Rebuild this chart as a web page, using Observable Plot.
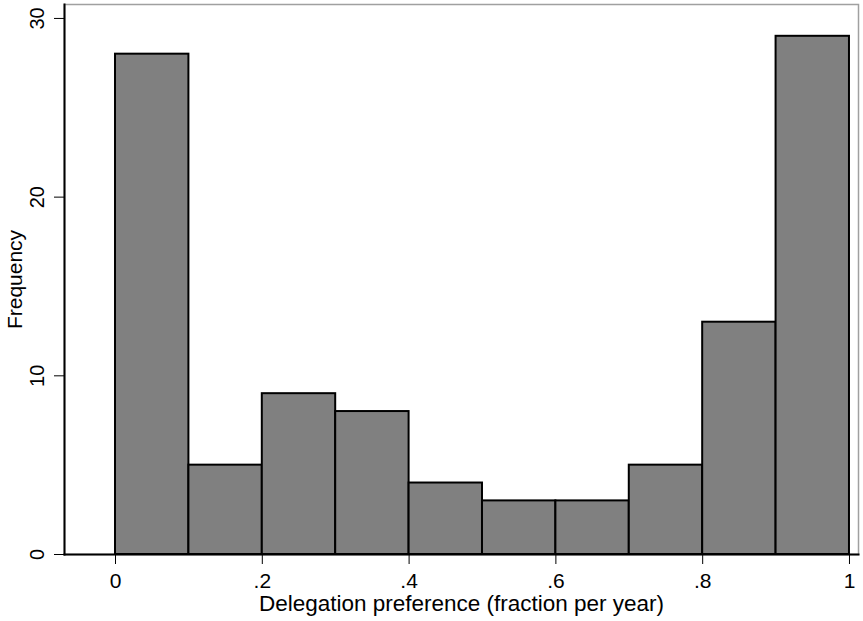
<!DOCTYPE html>
<html>
<head>
<meta charset="utf-8">
<script src="https://cdn.jsdelivr.net/npm/d3@7"></script>
<script src="https://cdn.jsdelivr.net/npm/@observablehq/plot@0.6"></script>
<style>
  body { margin: 0; background: #fff; }
  #chart svg { font-family: "Liberation Sans", Arial, sans-serif; }
</style>
</head>
<body>
<div id="chart"></div>
<script>
// Histogram bins: lower edges of each 0.1-wide bin and the counts in them
const binStart = [0, 0.1, 0.2, 0.3, 0.4, 0.5, 0.6, 0.7, 0.8, 0.9];
const binWidth = 0.1;
const counts = [28, 5, 9, 8, 4, 3, 3, 5, 13, 29];
const xTicks = [0, 0.2, 0.4, 0.6, 0.8, 1];
const xTickLabels = ["0", ".2", ".4", ".6", ".8", "1"];
const yTicks = [0, 10, 20, 30];

const bins = binStart.map((x0, i) => ({x1: x0, x2: x0 + binWidth, count: counts[i]}));

const chart = Plot.plot({
  width: 863,
  height: 621,
  marginLeft: 64,
  marginRight: 5,
  marginTop: 4,
  marginBottom: 67,
  style: {fontFamily: "'Liberation Sans', Arial, sans-serif", color: "#000"},
  x: {domain: [-0.0695, 1.0123]},
  y: {domain: [0, 30.78]},
  marks: [
    Plot.frame({stroke: "#a0a0a0", strokeWidth: 1.5}),
    Plot.rectY(bins, {x1: "x1", x2: "x2", y: "count", fill: "#808080", stroke: "#000", strokeWidth: 2}),
    Plot.frame({anchor: "left", stroke: "#000", strokeWidth: 2}),
    Plot.frame({anchor: "bottom", stroke: "#000", strokeWidth: 2}),
    Plot.axisX({
      ticks: xTicks,
      tickFormat: (d) => xTickLabels[xTicks.indexOf(d)],
      tickSize: 10,
      tickPadding: 9,
      fontSize: 21,
      label: null
    }),
    Plot.axisY({
      ticks: yTicks,
      tickSize: 10,
      tickPadding: 11,
      tickRotate: -90,
      fontSize: 20,
      label: null
    }),
    Plot.text(["Delegation preference (fraction per year)"], {
      frameAnchor: "bottom", dy: 56, text: (d) => d, fontSize: 22.5
    }),
    Plot.text(["Frequency"], {
      frameAnchor: "left", dx: -49, rotate: -90, textAnchor: "middle", text: (d) => d, fontSize: 21
    })
  ]
});

document.getElementById("chart").append(chart);
</script>
</body>
</html>
